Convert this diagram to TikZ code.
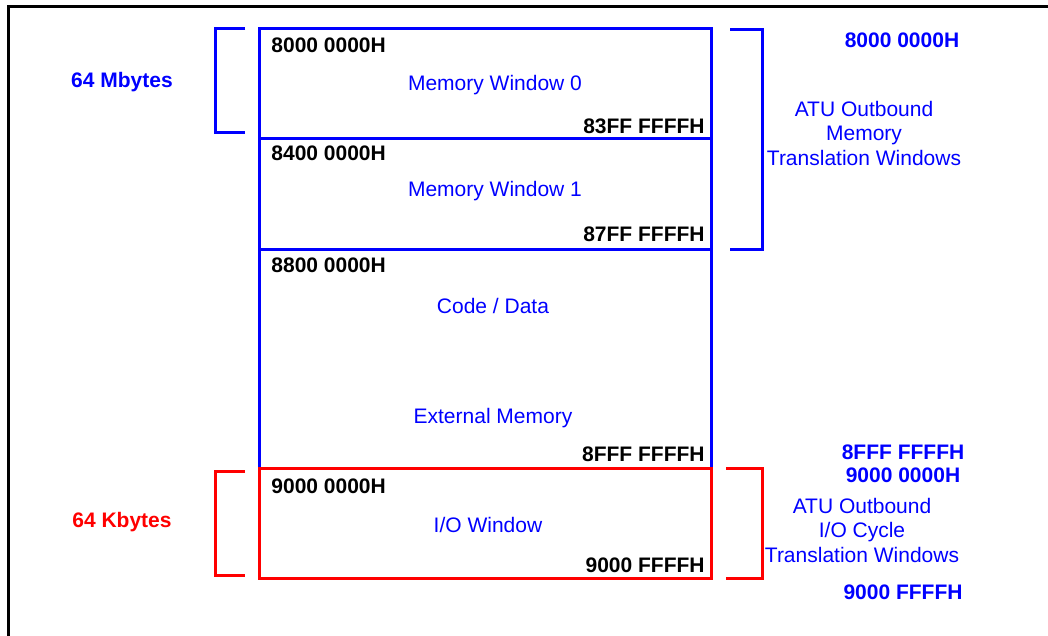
\documentclass[tikz,border=0pt]{standalone}
\usepackage{fontspec}
\setmainfont{Liberation Sans}
\definecolor{winblue}{RGB}{0,0,255}
\definecolor{iored}{RGB}{255,0,0}
\tikzset{
  region/.style={draw, line width=1.5pt, minimum width=226pt, inner sep=0pt},
  bracket/.style={line width=1.5pt},
  addr/.style={font=\fontsize{10.5}{12.25}\selectfont\bfseries, inner sep=0pt},
  wintext/.style={font=\fontsize{10.5}{12.25}\selectfont, text=winblue, inner sep=0pt, align=center, yshift=-1pt},
}
\begin{document}
\begin{tikzpicture}[x=0.5pt, y=-0.5pt]
    \useasboundingbox (0,0) rectangle (1048,636);
    % frame
    \draw[line width=1.5pt] (8,636) -- (8,7) -- (1048,7);

    % memory regions
    \node[region, winblue, minimum height=55pt] (win0) at (485,84) {};
    \node[region, winblue, minimum height=55pt] (win1) at (485,194) {};
    \node[region, winblue, minimum height=109.5pt] (code) at (485,358.5) {};
    \node[region, iored, minimum height=55pt] (iowin) at (485,523) {};

    % Memory Window 0
    \node[addr, anchor=west] (w0lo) at (271,45) {8000 0000H};
    \node[wintext] (w0txt) at (495,83) {Memory Window 0};
    \node[addr, anchor=east] (w0hi) at (705,126) {83FF FFFFH};

    % Memory Window 1
    \node[addr, anchor=west] (w1lo) at (271,153) {8400 0000H};
    \node[wintext] (w1txt) at (495,189) {Memory Window 1};
    \node[addr, anchor=east] (w1hi) at (705,234) {87FF FFFFH};

    % Code / Data
    \node[addr, anchor=west] (cdlo) at (271,265) {8800 0000H};
    \node[wintext] (cdtxt) at (493,304) {Code / Data};
    \node[wintext] (extxt) at (493,416) {External Memory};
    \node[addr, anchor=east] (cdhi) at (705,454) {8FFF FFFFH};

    % I/O Window
    \node[addr, anchor=west] (iolo) at (271,486) {9000 0000H};
    \node[wintext] (iotxt) at (488,523) {I/O Window};
    \node[addr, anchor=east] (iohi) at (705,565) {9000 FFFFH};

    % brackets
    \draw[bracket, winblue] (245,29) -- (215,29) -- (215,133) -- (245,133);
    \draw[bracket, winblue] (730,30) -- (762,30) -- (762,249) -- (730,249);
    \draw[bracket, iored] (245,471) -- (215,471) -- (215,575) -- (245,575);
    \draw[bracket, iored] (726,468) -- (762,468) -- (762,578) -- (726,578);

    % sizes
    \node[addr, text=winblue] (mbytes) at (122,82) {64 Mbytes};
    \node[addr, text=iored] (kbytes) at (122,522) {64 Kbytes};

    % outbound windows
    \node[addr, text=winblue] (memtop) at (902,40) {8000 0000H};
    \node[wintext] (mematu) at (864,131) {ATU Outbound\\Memory\\Translation Windows};
    \node[addr, text=winblue] (memend) at (903,452) {8FFF FFFFH};
    \node[addr, text=winblue] (iotop) at (903,475) {9000 0000H};
    \node[wintext] (ioatu) at (862,528) {ATU Outbound\\I/O Cycle\\Translation Windows};
    \node[addr, text=winblue] (ioend) at (903,592) {9000 FFFFH};
\end{tikzpicture}
\end{document}
